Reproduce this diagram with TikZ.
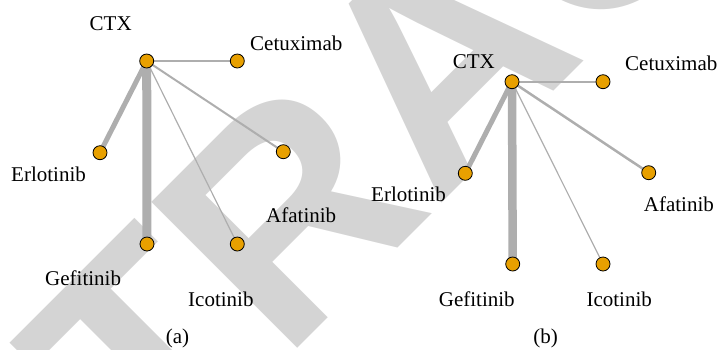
\documentclass[tikz,border=0pt]{standalone}
\usepackage{fontspec}
\setmainfont{Liberation Serif}
\newfontfamily\wmfont{Liberation Sans}
\usetikzlibrary{backgrounds}
\definecolor{wm}{HTML}{D4D4D4}
\definecolor{edge}{HTML}{AEAEAE}
\definecolor{nodefill}{HTML}{E8A000}
\pgfdeclarelayer{wmlayer}
\pgfdeclarelayer{edgelayer}
\pgfsetlayers{wmlayer,edgelayer,main}
\tikzset{
  drug/.style={circle,draw=black,line width=0.8pt,fill=nodefill,minimum size=14pt,inner sep=0pt},
  lbl/.style={anchor=base west,inner sep=0pt,font=\fontsize{21}{23}\selectfont},
  captext/.style={anchor=base,inner sep=0pt,font=\fontsize{21}{23}\selectfont},
  link/.style={draw=edge,line cap=butt}
}
\begin{document}
\begin{tikzpicture}[x=1pt,y=-1pt]
\useasboundingbox (0,0) rectangle (717,349);
\begin{pgfonlayer}{wmlayer}
\clip (0,0) rectangle (717,349);
\node[rotate=45,anchor=base west,text=wm,inner sep=0pt,font=\wmfont\bfseries\fontsize{300}{300}\selectfont] (wmtext) at (-141,786.5) {RETRACTED};
\end{pgfonlayer}
% panel (a)
\node[drug] (actx) at (146.7,61) {};
\node[drug] (acet) at (237.3,61) {};
\node[drug] (aerl) at (100,152.7) {};
\node[drug] (aafa) at (283.3,151.7) {};
\node[drug] (agef) at (147,244) {};
\node[drug] (aico) at (237.3,244) {};
\node[lbl] (lactx) at (89.5,30) {CTX};
\node[lbl] (lacet) at (250,50) {Cetuximab};
\node[lbl] (laerl) at (11,181) {Erlotinib};
\node[lbl] (laafa) at (266,222.7) {Afatinib};
\node[lbl] (lagef) at (45,285) {Gefitinib};
\node[lbl] (laico) at (188,306.7) {Icotinib};
\node[captext] (capa) at (177.5,343) {(a)};
\begin{pgfonlayer}{edgelayer}
\draw[link,line width=9pt] (actx.center) -- (agef.center);
\draw[link,line width=5pt] (actx.center) -- (aerl.center);
\draw[link,line width=2pt] (actx.center) -- (aafa.center);
\draw[link,line width=1.2pt] (actx.center) -- (aico.center);
\draw[link,line width=1.5pt] (actx.center) -- (acet.center);
\end{pgfonlayer}
% panel (b)
\node[drug] (bctx) at (512,81.7) {};
\node[drug] (bcet) at (603,81.7) {};
\node[drug] (berl) at (465.3,173.3) {};
\node[drug] (bafa) at (648.7,172.7) {};
\node[drug] (bgef) at (512.7,264) {};
\node[drug] (bico) at (603,264) {};
\node[lbl] (lbctx) at (452.7,68.3) {CTX};
\node[lbl] (lbcet) at (625,70) {Cetuximab};
\node[lbl] (lberl) at (371,201.7) {Erlotinib};
\node[lbl] (lbafa) at (643.7,211.7) {Afatinib};
\node[lbl] (lbgef) at (438.7,306) {Gefitinib};
\node[lbl] (lbico) at (586.3,306) {Icotinib};
\node[captext] (capb) at (545.5,343) {(b)};
\begin{pgfonlayer}{edgelayer}
\draw[link,line width=8.5pt] (bctx.center) -- (bgef.center);
\draw[link,line width=5pt] (bctx.center) -- (berl.center);
\draw[link,line width=2.5pt] (bctx.center) -- (bafa.center);
\draw[link,line width=1.2pt] (bctx.center) -- (bico.center);
\draw[link,line width=2pt] (bctx.center) -- (bcet.center);
\end{pgfonlayer}
\end{tikzpicture}
\end{document}
